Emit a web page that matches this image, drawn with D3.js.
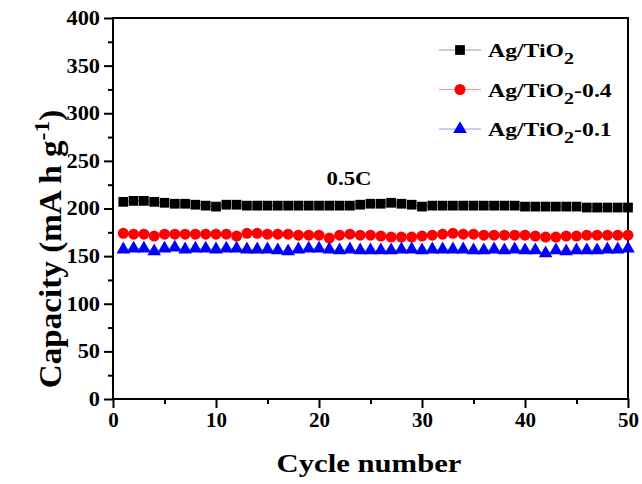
<!DOCTYPE html>
<html>
<head>
<meta charset="utf-8">
<script src="https://cdn.jsdelivr.net/npm/d3@7"></script>
<style>
  body { margin: 0; background: #fff; }
  text { font-family: "Liberation Serif", "Times New Roman", serif; font-weight: bold; }
</style>
</head>
<body>
<script>
// cycle numbers 1..50
var cycles = [1,2,3,4,5,6,7,8,9,10,11,12,13,14,15,16,17,18,19,20,21,22,23,24,25,
              26,27,28,29,30,31,32,33,34,35,36,37,38,39,40,41,42,43,44,45,46,47,48,49,50];

var agTiO2 = [207,208,208,207,206,205,205,204,203,202,204,204,203,203,203,203,203,203,203,203,
              203,203,203,204,205,205,206,205,204,202,203,203,203,203,203,203,203,203,203,202,
              202,202,202,202,202,201,201,201,201,201];

var agTiO2_04 = [174,173,173,171,173,173,173,173,173,173,173,171,174,174,173,173,173,172,172,172,
                 169,172,173,172,172,171,170,170,170,171,172,173,174,173,173,172,172,172,172,172,
                 171,170,170,171,171,172,172,172,172,172];

var agTiO2_01 = [157,158,158,155,158,159,157,158,158,157,158,158,157,157,157,156,155,157,158,158,
                 157,156,157,156,156,156,156,157,157,156,157,157,157,157,156,156,157,156,157,156,
                 156,153,156,155,156,156,156,157,157,158];

var xTicks = [0,10,20,30,40,50];
var yTicks = [0,50,100,150,200,250,300,350,400];

var series = [
    {name: "Ag/TiO", suffix: "", values: agTiO2, color: "#000", line: "#999", symbol: d3.symbolSquare, size: 95},
    {name: "Ag/TiO", suffix: "-0.4", values: agTiO2_04, color: "#ff0000", line: "#ff9999", symbol: d3.symbolCircle, size: 95},
    {name: "Ag/TiO", suffix: "-0.1", values: agTiO2_01, color: "#0000ff", line: "#9999ff", symbol: d3.symbolTriangle, size: 80}
];

function draw_chart(width = 642, height = 484) {
    var margin = {left: 113, right: 14, top: 18, bottom: 85};

    var svg = d3.select("body").append("svg")
        .attr("width", width)
        .attr("height", height);

    var x = d3.scaleLinear().domain([0, 50]).range([margin.left, width - margin.right]);
    var y = d3.scaleLinear().domain([0, 400]).range([height - margin.bottom, margin.top]);

    // frame
    svg.append("rect")
        .attr("x", x(0)).attr("y", y(400))
        .attr("width", x(50) - x(0)).attr("height", y(0) - y(400))
        .attr("fill", "none").attr("stroke", "#000").attr("stroke-width", 2);

    // minor ticks
    svg.append("g")
        .attr("transform", "translate(0," + y(0) + ")")
        .call(d3.axisBottom(x).tickValues(d3.range(5, 50, 10)).tickSize(5).tickFormat(""))
        .call(g => g.select(".domain").remove())
        .selectAll("line").attr("stroke-width", 2);
    svg.append("g")
        .attr("transform", "translate(" + x(0) + ",0)")
        .call(d3.axisLeft(y).tickValues(d3.range(25, 400, 50)).tickSize(5).tickFormat(""))
        .call(g => g.select(".domain").remove())
        .selectAll("line").attr("stroke-width", 2);

    // major axes
    var xAxis = svg.append("g")
        .attr("transform", "translate(0," + y(0) + ")")
        .call(d3.axisBottom(x).tickValues(xTicks).tickSize(9).tickPadding(5));
    xAxis.select(".domain").remove();
    xAxis.selectAll("line").attr("stroke-width", 2);
    xAxis.selectAll("text")
        .attr("font-size", 20).attr("font-family", "Liberation Serif").attr("font-weight", "bold")
        .attr("transform", "scale(1.05,1)");

    var yAxis = svg.append("g")
        .attr("transform", "translate(" + x(0) + ",0)")
        .call(d3.axisLeft(y).tickValues(yTicks).tickSize(9).tickPadding(4));
    yAxis.select(".domain").remove();
    yAxis.selectAll("line").attr("stroke-width", 2);
    yAxis.selectAll("text")
        .attr("font-size", 20).attr("font-family", "Liberation Serif").attr("font-weight", "bold")
        .attr("x", -13 / 1.12)
        .attr("transform", "scale(1.12,1)");

    // series
    series.forEach(function(s) {
        var pts = cycles.map(function(c, i) { return [c, s.values[i]]; });
        svg.append("path")
            .datum(pts)
            .attr("fill", "none")
            .attr("stroke", s.line)
            .attr("stroke-width", 1)
            .attr("d", d3.line().x(d => x(d[0])).y(d => y(d[1])));
        svg.append("g").selectAll("path")
            .data(pts)
            .enter()
            .append("path")
            .attr("d", d3.symbol().type(s.symbol).size(s.size))
            .attr("transform", d => "translate(" + x(d[0]) + "," + y(d[1]) + ")")
            .attr("fill", s.color);
    });

    // annotation
    svg.append("g")
        .attr("transform", "translate(349,185) scale(1.2,1)")
        .append("text")
        .attr("text-anchor", "middle")
        .attr("font-size", 19)
        .text("0.5C");

    // legend
    var legend = svg.append("g");
    series.forEach(function(s, i) {
        var ly = 50 + i * 39.5;
        legend.append("line")
            .attr("x1", 439).attr("x2", 481).attr("y1", ly).attr("y2", ly)
            .attr("stroke", s.line).attr("stroke-width", 1);
        legend.append("path")
            .attr("d", d3.symbol().type(s.symbol).size(s.size))
            .attr("transform", "translate(460," + ly + ")")
            .attr("fill", s.color);
        var t = legend.append("g")
            .attr("transform", "translate(488," + (ly + 7) + ") scale(1.25,1)")
            .append("text")
            .attr("font-size", 19);
        t.append("tspan").text(s.name);
        t.append("tspan").attr("dy", 7).attr("font-size", 16).text("2");
        if (s.suffix) t.append("tspan").attr("dy", -7).text(s.suffix);
    });

    // axis titles
    svg.append("g")
        .attr("transform", "translate(369,472) scale(1.18,1)")
        .append("text")
        .attr("text-anchor", "middle")
        .attr("font-size", 26)
        .text("Cycle number");

    var yt = svg.append("g")
        .attr("transform", "translate(61,249) rotate(-90) scale(1.07,1)")
        .append("text")
        .attr("text-anchor", "middle")
        .attr("font-size", 31);
    yt.append("tspan").text("Capacity (mA h g");
    yt.append("tspan").attr("dy", -12).attr("font-size", 22).text("-1");
    yt.append("tspan").attr("dy", 12).text(")");
}

draw_chart(642, 484);
</script>
</body>
</html>
